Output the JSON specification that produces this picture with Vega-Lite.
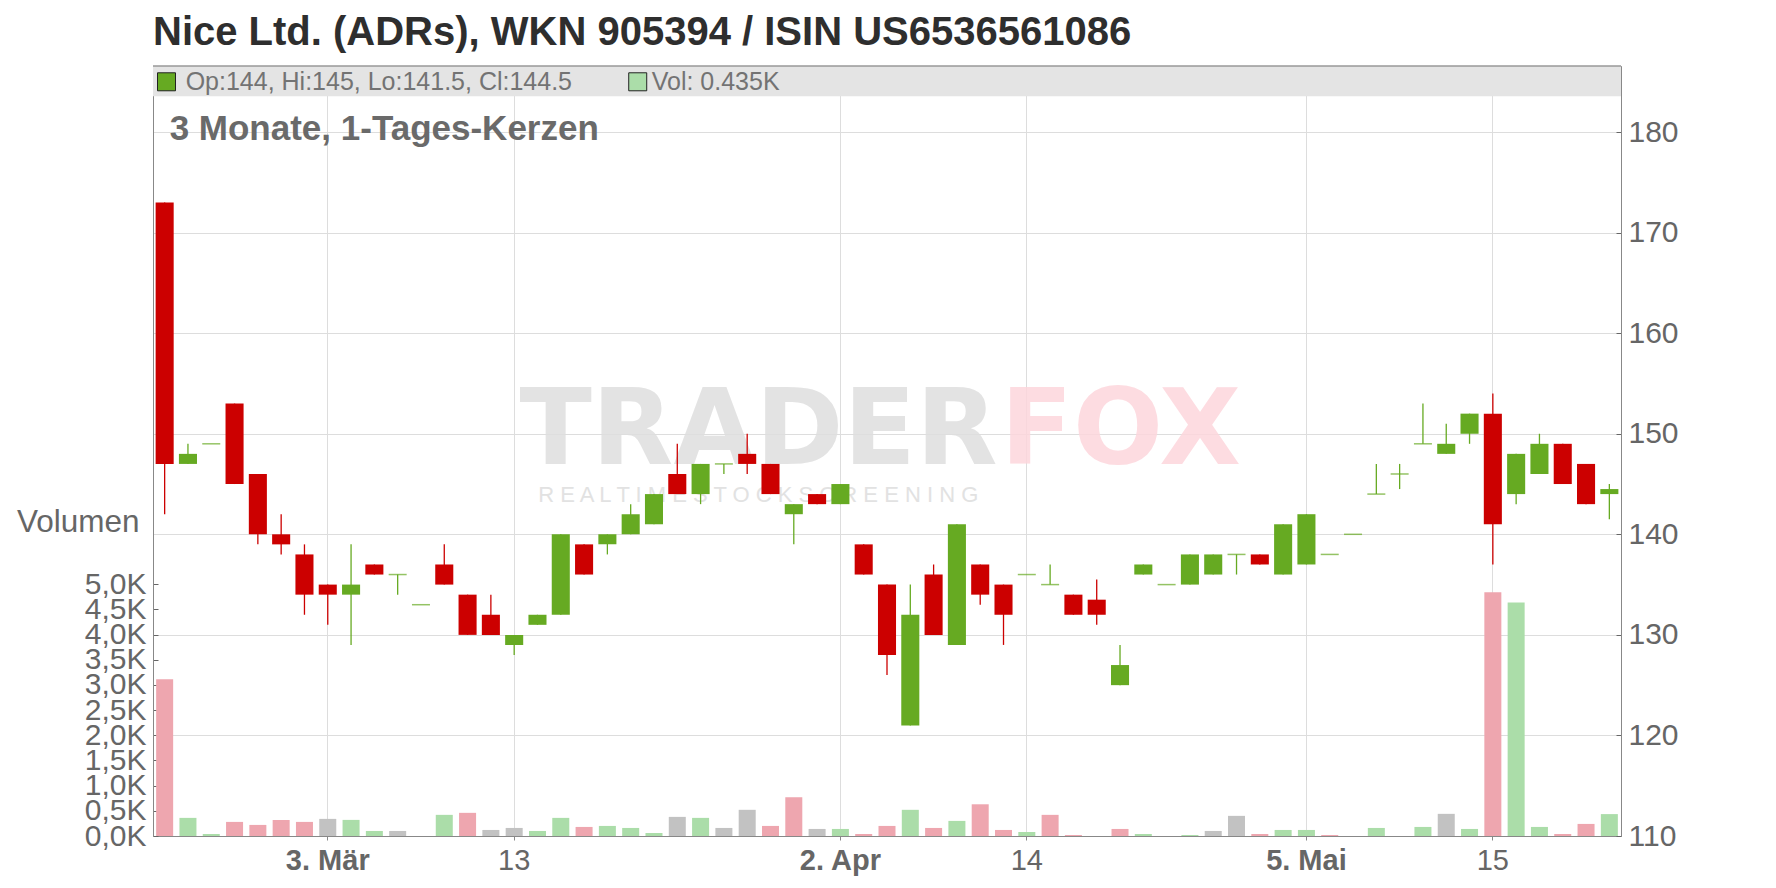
{
  "$schema": "https://vega.github.io/schema/vega-lite/v6.json",
  "width": 1468,
  "height": 770,
  "autosize": {"type": "none"},
  "padding": {"left": 153, "top": 66, "right": 155, "bottom": 52},
  "background": "white",
  "config": {
    "font": "Liberation Sans",
    "view": {"stroke": "#999"},
    "axis": {"labelFont": "Liberation Sans", "titleFont": "Liberation Sans"}
  },
  "title": {
    "text": "Nice Ltd. (ADRs), WKN 905394 / ISIN US6536561086",
    "anchor": "start",
    "frame": "group",
    "fontSize": 40,
    "fontWeight": "bold",
    "color": "#2e2e2e",
    "baseline": "alphabetic",
    "offset": -20
  },
  "data": {
    "values": [
      {"date": "2025-02-20", "open": 173, "high": 173, "low": 142, "close": 147, "volume": 3115, "chg": "down"},
      {"date": "2025-02-21", "open": 147, "high": 149, "low": 147, "close": 148, "volume": 360, "chg": "up"},
      {"date": "2025-02-24", "open": 149, "high": 149, "low": 149, "close": 149, "volume": 40, "chg": "up"},
      {"date": "2025-02-25", "open": 153, "high": 153, "low": 145, "close": 145, "volume": 280, "chg": "down"},
      {"date": "2025-02-26", "open": 146, "high": 146, "low": 139, "close": 140, "volume": 220, "chg": "down"},
      {"date": "2025-02-27", "open": 140, "high": 142, "low": 138, "close": 139, "volume": 320, "chg": "down"},
      {"date": "2025-02-28", "open": 138, "high": 139, "low": 132, "close": 134, "volume": 280, "chg": "down"},
      {"date": "2025-03-03", "open": 135, "high": 135, "low": 131, "close": 134, "volume": 340, "chg": "flat"},
      {"date": "2025-03-04", "open": 134, "high": 139, "low": 129, "close": 135, "volume": 320, "chg": "up"},
      {"date": "2025-03-05", "open": 137, "high": 137, "low": 136, "close": 136, "volume": 100, "chg": "up"},
      {"date": "2025-03-06", "open": 136, "high": 136, "low": 134, "close": 136, "volume": 100, "chg": "flat"},
      {"date": "2025-03-07", "open": 133, "high": 133, "low": 133, "close": 133, "volume": 0, "chg": "down"},
      {"date": "2025-03-10", "open": 137, "high": 139, "low": 135, "close": 135, "volume": 420, "chg": "up"},
      {"date": "2025-03-11", "open": 134, "high": 134, "low": 130, "close": 130, "volume": 460, "chg": "down"},
      {"date": "2025-03-12", "open": 132, "high": 134, "low": 130, "close": 130, "volume": 120, "chg": "flat"},
      {"date": "2025-03-13", "open": 129, "high": 130, "low": 128, "close": 130, "volume": 160, "chg": "flat"},
      {"date": "2025-03-14", "open": 131, "high": 132, "low": 131, "close": 132, "volume": 100, "chg": "up"},
      {"date": "2025-03-17", "open": 132, "high": 140, "low": 132, "close": 140, "volume": 360, "chg": "up"},
      {"date": "2025-03-18", "open": 139, "high": 139, "low": 136, "close": 136, "volume": 180, "chg": "down"},
      {"date": "2025-03-19", "open": 139, "high": 140, "low": 138, "close": 140, "volume": 200, "chg": "up"},
      {"date": "2025-03-20", "open": 140, "high": 143, "low": 140, "close": 142, "volume": 160, "chg": "up"},
      {"date": "2025-03-21", "open": 141, "high": 144, "low": 141, "close": 144, "volume": 60, "chg": "up"},
      {"date": "2025-03-24", "open": 146, "high": 149, "low": 144, "close": 144, "volume": 380, "chg": "flat"},
      {"date": "2025-03-25", "open": 144, "high": 147, "low": 143, "close": 147, "volume": 360, "chg": "up"},
      {"date": "2025-03-26", "open": 147, "high": 147, "low": 146, "close": 147, "volume": 160, "chg": "flat"},
      {"date": "2025-03-27", "open": 148, "high": 150, "low": 146, "close": 147, "volume": 520, "chg": "flat"},
      {"date": "2025-03-28", "open": 147, "high": 147, "low": 144, "close": 144, "volume": 200, "chg": "down"},
      {"date": "2025-03-31", "open": 142, "high": 143, "low": 139, "close": 143, "volume": 770, "chg": "down"},
      {"date": "2025-04-01", "open": 144, "high": 144, "low": 143, "close": 143, "volume": 140, "chg": "flat"},
      {"date": "2025-04-02", "open": 143, "high": 145, "low": 143, "close": 145, "volume": 140, "chg": "up"},
      {"date": "2025-04-03", "open": 139, "high": 139, "low": 136, "close": 136, "volume": 40, "chg": "down"},
      {"date": "2025-04-04", "open": 135, "high": 135, "low": 126, "close": 128, "volume": 200, "chg": "down"},
      {"date": "2025-04-07", "open": 121, "high": 135, "low": 121, "close": 132, "volume": 520, "chg": "up"},
      {"date": "2025-04-08", "open": 136, "high": 137, "low": 130, "close": 130, "volume": 160, "chg": "down"},
      {"date": "2025-04-09", "open": 129, "high": 141, "low": 129, "close": 141, "volume": 300, "chg": "up"},
      {"date": "2025-04-10", "open": 137, "high": 137, "low": 133, "close": 134, "volume": 630, "chg": "down"},
      {"date": "2025-04-11", "open": 135, "high": 135, "low": 129, "close": 132, "volume": 120, "chg": "down"},
      {"date": "2025-04-14", "open": 136, "high": 136, "low": 136, "close": 136, "volume": 80, "chg": "up"},
      {"date": "2025-04-15", "open": 135, "high": 137, "low": 135, "close": 135, "volume": 420, "chg": "down"},
      {"date": "2025-04-16", "open": 134, "high": 134, "low": 132, "close": 132, "volume": 20, "chg": "down"},
      {"date": "2025-04-17", "open": 133.5, "high": 135.5, "low": 131, "close": 132, "volume": 0, "chg": "flat"},
      {"date": "2025-04-22", "open": 125, "high": 129, "low": 125, "close": 127, "volume": 140, "chg": "down"},
      {"date": "2025-04-23", "open": 136, "high": 137, "low": 136, "close": 137, "volume": 40, "chg": "up"},
      {"date": "2025-04-24", "open": 135, "high": 135, "low": 135, "close": 135, "volume": 0, "chg": "down"},
      {"date": "2025-04-25", "open": 135, "high": 138, "low": 135, "close": 138, "volume": 20, "chg": "up"},
      {"date": "2025-04-28", "open": 136, "high": 138, "low": 136, "close": 138, "volume": 100, "chg": "flat"},
      {"date": "2025-04-29", "open": 138, "high": 138, "low": 136, "close": 138, "volume": 400, "chg": "flat"},
      {"date": "2025-04-30", "open": 138, "high": 138, "low": 137, "close": 137, "volume": 40, "chg": "down"},
      {"date": "2025-05-02", "open": 136, "high": 141, "low": 136, "close": 141, "volume": 120, "chg": "up"},
      {"date": "2025-05-05", "open": 137, "high": 142, "low": 137, "close": 142, "volume": 120, "chg": "up"},
      {"date": "2025-05-06", "open": 138, "high": 138, "low": 138, "close": 138, "volume": 20, "chg": "down"},
      {"date": "2025-05-07", "open": 140, "high": 140, "low": 140, "close": 140, "volume": 0, "chg": "up"},
      {"date": "2025-05-08", "open": 144, "high": 147, "low": 144, "close": 144, "volume": 160, "chg": "up"},
      {"date": "2025-05-09", "open": 146, "high": 147, "low": 144.5, "close": 146, "volume": 0, "chg": "up"},
      {"date": "2025-05-12", "open": 149, "high": 153, "low": 149, "close": 149, "volume": 180, "chg": "up"},
      {"date": "2025-05-13", "open": 148, "high": 151, "low": 148, "close": 149, "volume": 440, "chg": "flat"},
      {"date": "2025-05-14", "open": 150, "high": 152, "low": 149, "close": 152, "volume": 140, "chg": "up"},
      {"date": "2025-05-15", "open": 152, "high": 154, "low": 137, "close": 141, "volume": 4840, "chg": "down"},
      {"date": "2025-05-16", "open": 144, "high": 148, "low": 143, "close": 148, "volume": 4640, "chg": "up"},
      {"date": "2025-05-19", "open": 146, "high": 150, "low": 146, "close": 149, "volume": 180, "chg": "up"},
      {"date": "2025-05-20", "open": 149, "high": 149, "low": 145, "close": 145, "volume": 40, "chg": "down"},
      {"date": "2025-05-21", "open": 147, "high": 147, "low": 143, "close": 143, "volume": 240, "chg": "down"},
      {"date": "2025-05-22", "open": 144, "high": 145, "low": 141.5, "close": 144.5, "volume": 435, "chg": "up"}
    ]
  },
  "resolve": {"scale": {"y": "independent"}},
  "layer": [
    {
      "mark": {"type": "bar", "width": {"band": 0.73}},
      "encoding": {
        "x": {
          "field": "date",
          "type": "ordinal",
          "scale": {"type": "band", "paddingInner": 0, "paddingOuter": 0},
          "axis": {
            "title": null,
            "values": ["2025-03-03", "2025-03-13", "2025-04-02", "2025-04-14", "2025-05-05", "2025-05-15"],
            "labelExpr": "datum.value == '2025-03-03' ? '3. Mär' : datum.value == '2025-03-13' ? '13' : datum.value == '2025-04-02' ? '2. Apr' : datum.value == '2025-04-14' ? '14' : datum.value == '2025-05-05' ? '5. Mai' : '15'",
            "labelFontWeight": {"condition": {"test": "datum.value == '2025-03-03' || datum.value == '2025-04-02' || datum.value == '2025-05-05'", "value": "bold"}, "value": "normal"},
            "labelAngle": 0,
            "labelFontSize": 29,
            "labelColor": "#666",
            "labelPadding": 6,
            "labelOverlap": false,
            "bandPosition": 0.5,
            "grid": true,
            "gridColor": "#dddddd",
            "tickSize": 4,
            "tickColor": "#888",
            "domainColor": "#888"
          }
        },
        "y": {
          "field": "volume",
          "type": "quantitative",
          "scale": {"domain": [0, 15296], "nice": false, "zero": true},
          "axis": {
            "orient": "left",
            "values": [0, 500, 1000, 1500, 2000, 2500, 3000, 3500, 4000, 4500, 5000],
            "labelExpr": "replace(format(datum.value / 1000, '.1f'), '.', ',') + 'K'",
            "labelOverlap": false,
            "grid": false,
            "labelFontSize": 30,
            "labelColor": "#666",
            "labelPadding": 12,
            "tickSize": -5,
            "tickColor": "#666",
            "domainColor": "#888",
            "title": "Volumen",
            "titleAngle": 0,
            "titleFontSize": 31.5,
            "titleFontWeight": "normal",
            "titleColor": "#666",
            "titleAlign": "right",
            "titleBaseline": "middle",
            "titleX": -14,
            "titleY": 456
          }
        },
        "color": {
          "condition": [
            {"test": "datum.chg == 'down'", "value": "#eea6af"},
            {"test": "datum.chg == 'up'", "value": "#abdda9"}
          ],
          "value": "#c2c2c2"
        }
      }
    },
    {
      "layer": [
        {
          "data": {"values": [{}]},
          "mark": {"type": "rect", "fill": "#e4e4e4"},
          "encoding": {
            "x": {"value": 0},
            "x2": {"value": "width"},
            "y": {"datum": 183.56, "type": "quantitative", "axis": {"title": null}},
            "y2": {"datum": 186.57}
          }
        },
        {
          "data": {"values": [{}]},
          "mark": {"type": "rule", "stroke": "#999", "strokeWidth": 1.5},
          "encoding": {
            "x": {"value": 0},
            "x2": {"value": "width"},
            "y": {"datum": 186.57, "type": "quantitative", "axis": {"title": null}}
          }
        },
        {
          "data": {"values": [{}]},
          "mark": {"type": "text", "font": "DejaVu Sans", "fontWeight": "bold", "fontSize": 106, "align": "right", "baseline": "alphabetic", "color": "#dfdfdf", "dx": -6, "opacity": 0.85},
          "encoding": {
            "x": {"datum": "2025-04-11", "type": "ordinal", "axis": {"title": null}},
            "y": {"datum": 146.98, "type": "quantitative", "axis": {"title": null}},
            "text": {"value": "TRADER"}
          }
        },
        {
          "data": {"values": [{}]},
          "mark": {"type": "text", "font": "DejaVu Sans", "fontWeight": "bold", "fontSize": 106, "align": "left", "baseline": "alphabetic", "color": "#fdd6dc", "dx": -3, "opacity": 0.85},
          "encoding": {
            "x": {"datum": "2025-04-11", "type": "ordinal", "axis": {"title": null}},
            "y": {"datum": 146.98, "type": "quantitative", "axis": {"title": null}},
            "text": {"value": "FOX"}
          }
        },
        {
          "data": {"values": [{}]},
          "mark": {"type": "text", "font": "Liberation Sans", "fontSize": 22, "align": "center", "baseline": "alphabetic", "color": "#e2e2e2", "dx": 11},
          "encoding": {
            "x": {"datum": "2025-03-27", "type": "ordinal", "axis": {"title": null}},
            "y": {"datum": 143.2, "type": "quantitative", "axis": {"title": null}},
            "text": {"value": "R E A L T I M E   S T O C K   S C R E E N I N G"}
          }
        },
        {
          "mark": {"type": "rule", "strokeWidth": 1.3},
          "encoding": {
            "x": {"field": "date", "type": "ordinal", "axis": {"title": null}},
            "y": {
              "field": "low",
              "type": "quantitative",
              "scale": {"domain": [110, 186.57], "nice": false, "zero": false},
              "axis": {
                "orient": "right",
                "title": null,
                "values": [110, 120, 130, 140, 150, 160, 170, 180],
                "labelOverlap": false,
                "grid": true,
                "gridColor": "#dddddd",
                "labelFontSize": 30,
                "labelColor": "#666",
                "labelPadding": 12,
                "tickSize": -5,
                "tickColor": "#666",
                "domainColor": "#888"
              }
            },
            "y2": {"field": "high"},
            "color": {"condition": {"test": "datum.close < datum.open", "value": "#cc0000"}, "value": "#66aa22"}
          }
        },
        {
          "mark": {"type": "bar", "width": {"band": 0.775}},
          "encoding": {
            "x": {"field": "date", "type": "ordinal", "axis": {"title": null}},
            "y": {"field": "open", "type": "quantitative", "axis": {"title": null}},
            "y2": {"field": "close"},
            "color": {"condition": {"test": "datum.close < datum.open", "value": "#cc0000"}, "value": "#66aa22"}
          }
        },
        {
          "transform": [{"filter": "datum.open == datum.close"}],
          "mark": {"type": "tick", "size": 18, "thickness": 1.5, "orient": "horizontal"},
          "encoding": {
            "x": {"field": "date", "type": "ordinal", "axis": {"title": null}},
            "y": {"field": "close", "type": "quantitative", "axis": {"title": null}},
            "color": {"value": "#66aa22"}
          }
        },
        {
          "data": {"values": [{}]},
          "mark": {"type": "text", "fontSize": 35, "fontWeight": "bold", "align": "left", "baseline": "alphabetic", "color": "#6a6a6a", "dx": 5},
          "encoding": {
            "x": {"datum": "2025-02-20", "type": "ordinal", "axis": {"title": null}},
            "y": {"datum": 179.2, "type": "quantitative", "axis": {"title": null}},
            "text": {"value": "3 Monate, 1-Tages-Kerzen"}
          }
        },
        {
          "data": {"values": [{}]},
          "mark": {"type": "square", "size": 324, "filled": true, "fill": "#66aa22", "stroke": "#222", "strokeWidth": 1, "opacity": 1},
          "encoding": {
            "x": {"datum": "2025-02-20", "type": "ordinal", "axis": {"title": null}},
            "xOffset": {"value": 13.5},
            "y": {"datum": 185.0, "type": "quantitative", "axis": {"title": null}}
          }
        },
        {
          "data": {"values": [{}]},
          "mark": {"type": "text", "fontSize": 25, "align": "left", "baseline": "alphabetic", "color": "#737373", "dx": 21},
          "encoding": {
            "x": {"datum": "2025-02-20", "type": "ordinal", "axis": {"title": null}},
            "y": {"datum": 184.15, "type": "quantitative", "axis": {"title": null}},
            "text": {"value": "Op:144, Hi:145, Lo:141.5, Cl:144.5"}
          }
        },
        {
          "data": {"values": [{}]},
          "mark": {"type": "square", "size": 324, "filled": true, "fill": "#abdda9", "stroke": "#222", "strokeWidth": 1, "opacity": 1},
          "encoding": {
            "x": {"datum": "2025-03-20", "type": "ordinal", "axis": {"title": null}},
            "xOffset": {"value": 18.7},
            "y": {"datum": 185.0, "type": "quantitative", "axis": {"title": null}}
          }
        },
        {
          "data": {"values": [{}]},
          "mark": {"type": "text", "fontSize": 25, "align": "left", "baseline": "alphabetic", "color": "#737373", "dx": 21},
          "encoding": {
            "x": {"datum": "2025-03-20", "type": "ordinal", "axis": {"title": null}},
            "y": {"datum": 184.15, "type": "quantitative", "axis": {"title": null}},
            "text": {"value": "Vol: 0.435K"}
          }
        }
      ]
    }
  ]
}
